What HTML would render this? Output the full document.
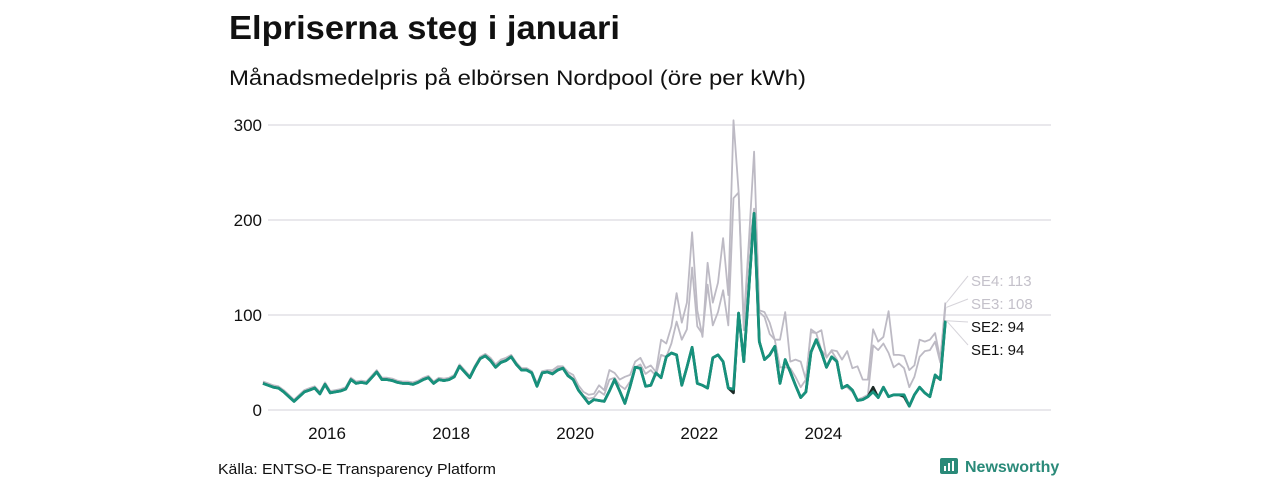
<!DOCTYPE html>
<html><head><meta charset="utf-8"><style>
body{margin:0;background:#fff;width:1280px;height:480px;overflow:hidden;font-family:"Liberation Sans",sans-serif}
</style></head><body>
<svg id="chart" width="1280" height="480" xmlns="http://www.w3.org/2000/svg" font-family="Liberation Sans, sans-serif">
<text x="229" y="39" font-size="33" font-weight="bold" fill="#111" textLength="391" lengthAdjust="spacingAndGlyphs">Elpriserna steg i januari</text>
<text x="229" y="85" font-size="21" fill="#111" textLength="577" lengthAdjust="spacingAndGlyphs">Månadsmedelpris på elbörsen Nordpool (öre per kWh)</text>
<g id="grid"></g><g id="series"></g><g id="labels"></g>
<text x="218" y="474" font-size="15" fill="#111" textLength="278" lengthAdjust="spacingAndGlyphs">Källa: ENTSO-E Transparency Platform</text>
<g>
<rect x="940" y="458" width="18" height="16" rx="2" fill="#2a8a79"/>
<rect x="944" y="466" width="2" height="5" fill="#fff"/><rect x="948" y="463" width="2" height="8" fill="#fff"/><rect x="952" y="461" width="2" height="10" fill="#fff"/>
<text x="965" y="472" font-size="16" font-weight="bold" fill="#2a8a79">Newsworthy</text>
</g>
</svg>
<script>
const yTicks=[0,100,200,300];
const xTickYears=[2016,2018,2020,2022,2024];
const se2=[28,26,24,23,19,14,9,14,19,21,23,17,
27,18,19,20,22,32,28,29,28,34,40,32,
32,31,29,28,28,27,29,32,34,28,32,31,
32,35,46,40,34,45,54,57,52,45,50,52,
56,48,42,42,39,25,39,40,38,42,44,36,
32,21,14,7,11,10,9,20,32,20,7,25,
45,44,25,26,39,34,56,60,58,26,45,66,
28,26,23,55,58,51,23,22,102,51,130,207,
72,53,58,67,28,53,40,26,13,19,61,74,
61,45,56,51,23,26,21,10,11,14,19,13,
24,14,16,16,16,4,16,24,18,14,37,32,
94];
const se1=[28,26,24,23,19,14,9,14,19,21,23,17,
27,18,19,20,22,32,28,29,28,34,40,32,
32,31,29,28,28,27,29,32,34,28,32,31,
32,35,46,40,34,45,54,57,52,45,50,52,
56,48,42,42,39,25,39,40,38,42,44,36,
32,21,14,7,11,10,9,20,32,20,7,25,
45,44,25,26,39,34,56,60,58,26,45,66,
28,26,23,55,58,51,23,18,102,51,130,207,
72,53,58,67,28,53,40,26,13,19,61,74,
61,45,56,51,23,26,21,10,11,14,24,13,
24,14,16,16,14,4,16,24,18,14,36,32,
94];
const se3=[29,27,25,24,20,15,10,15,20,22,24,18,
28,19,20,21,23,33,29,30,29,35,41,33,
33,32,30,29,29,28,30,33,35,29,33,32,
33,36,47,41,35,46,55,58,54,47,52,54,
57,49,43,43,40,27,40,41,40,44,45,38,
33,22,15,12,13,20,16,32,34,26,22,30,
45,48,38,42,36,58,56,70,93,74,85,150,
88,80,132,89,103,126,89,223,229,84,170,212,
103,98,80,74,45,45,44,35,24,32,82,81,
63,56,62,53,24,24,19,11,13,16,68,63,
70,60,45,49,44,24,35,56,62,63,72,50,
108];
const se4=[30,28,26,25,21,16,11,16,21,23,25,19,
29,20,21,22,24,34,30,31,30,36,42,34,
34,33,31,30,30,29,31,34,36,30,34,33,
34,37,48,42,36,47,56,59,55,48,53,55,
58,50,44,44,41,28,41,42,42,46,46,40,
37,26,19,16,17,26,21,42,39,32,35,37,
51,55,44,47,40,74,70,88,123,92,113,187,
105,77,155,113,134,181,121,305,230,92,180,272,
105,103,92,74,74,103,51,53,51,32,85,81,
84,55,63,62,53,62,44,46,32,32,85,72,
77,104,58,58,57,42,47,74,72,74,81,53,
113];
const seriesNames=["SE4","SE3","SE1","SE2"];
const NS="http://www.w3.org/2000/svg";
const X0=263,DX=5.17,Y0=410,KY=0.95;
const xs=i=>X0+i*DX, ys=v=>Y0-v*KY;
const grid=document.getElementById('grid'),ser=document.getElementById('series'),lab=document.getElementById('labels');
function mk(tag,attrs,parent){const e=document.createElementNS(NS,tag);for(const k in attrs)e.setAttribute(k,attrs[k]);parent.appendChild(e);return e;}
yTicks.forEach(t=>{
 const l=mk('line',{x1:268,x2:1051,y1:ys(t),y2:ys(t),stroke:'#dcdae0','stroke-width':1.2},grid);
 
 
 const tx=mk('text',{x:262,y:ys(t)+6,'text-anchor':'end','font-size':17,fill:'#111'},grid);
 tx.textContent=t;
 
 
});
xTickYears.forEach(yr=>{
 const tx=mk('text',{x:xs((yr-2015)*12)+2,y:439,'text-anchor':'middle','font-size':17,fill:'#111'},grid);
 tx.textContent=yr;
 
 
});
const data={SE4:se4,SE3:se3,SE1:se1,SE2:se2};
const styles={SE4:['#bdbac4',1.8],SE3:['#bdbac4',1.8],SE1:['#1c2a26',2.6],SE2:['#17917c',2.8]};
seriesNames.forEach(n=>{
 const d=data[n].map((v,i)=>(i?'L':'M')+xs(i).toFixed(1)+','+ys(v).toFixed(1)).join('');
 const p=mk('path',{d:d,fill:'none',stroke:styles[n][0],'stroke-width':styles[n][1],'stroke-linejoin':'round'},ser);
 
 
});
const labelY={SE4:281,SE3:304,SE2:327,SE1:350};
const labelCol={SE4:'#c4c1ca',SE3:'#c4c1ca',SE2:'#111',SE1:'#111'};
["SE4","SE3","SE2","SE1"].forEach(n=>{
 const arr=data[n],li=arr.length-1;
 const c=mk('line',{x1:xs(li)+1,y1:ys(arr[li]),x2:968,y2:labelY[n]-5,stroke:'#d6d4da','stroke-width':1},lab);
 
 
 const t=mk('text',{x:971,y:labelY[n]+5,'font-size':15,fill:labelCol[n]},lab);
 t.textContent=n+': '+arr[li];
 
 
});
</script>
</body></html>
